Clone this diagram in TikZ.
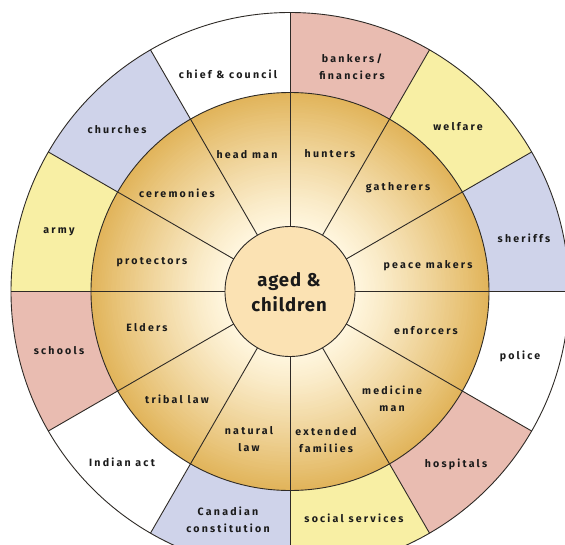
\documentclass[tikz,border=0pt]{standalone}
\usepackage{fontspec}
\setmainfont{Fira Sans}
\newfontfamily\labfont[LetterSpace=21]{Fira Sans}
\newfontfamily\midfont[LetterSpace=5]{Fira Sans}
\definecolor{pinkc}{HTML}{E9BCB1}
\definecolor{yelc}{HTML}{F8EFA4}
\definecolor{lavc}{HTML}{CFD3EA}
\definecolor{goldc}{HTML}{E1B45A}
\definecolor{creamc}{HTML}{FFF6DE}
\definecolor{centc}{HTML}{FBE2B3}
\definecolor{linec}{HTML}{2E2A26}
\definecolor{txtc}{HTML}{1A1A1A}
\tikzset{
  lab/.style={font=\labfont\bfseries\fontsize{10.6}{17}\selectfont, text=txtc, align=center, inner sep=0pt},
  bigl/.style={font=\midfont\bfseries\fontsize{18.5}{25}\selectfont, text=txtc, align=center, inner sep=0pt},
  rim/.style={draw=linec, line width=0.9pt},
}
\begin{document}
\begin{tikzpicture}[x=1pt,y=1pt]
\useasboundingbox (-290,-252.5) rectangle (275,291.5);
\clip (-290,-252.5) rectangle (275,291.5);
\fill[white] (-290,-252.5) rectangle (275,291.5);
\def\RR{279}\def\rr{199}\def\cc{65}
% outer ring sectors (start angle, colour)
\foreach \a/\col in {90/white,60/pinkc,30/yelc,0/lavc,-30/white,-60/pinkc,-90/yelc,-120/lavc,-150/white,180/pinkc,150/yelc,120/lavc}{
  \fill[\col] (0,0) -- (\a:\RR) arc[start angle=\a, end angle=\a+30, radius=\RR] -- cycle;
}
% inner ring gradient
\foreach \i in {0,...,80}{
  \pgfmathsetmacro\rad{\rr-\i*(\rr-\cc)/80}
  \pgfmathtruncatemacro\pp{100*((\rad-\cc)/(\rr-\cc))^1.15}
  \fill[goldc!\pp!creamc] (0,0) circle (\rad);
}
% radial lines
\foreach \a in {0,30,...,330}{
  \draw[rim] (\a:\cc) -- (\a:\RR);
}
\draw[rim] (0,0) circle (\RR);
\draw[rim] (0,0) circle (\rr);
\draw[rim, fill=centc] (0,0) circle (\cc);
% centre
\node[bigl] (agedchildren) at (-1,-0.5) {aged \&\\children};
% inner ring labels
\node[lab] (headman) at (-43,136.5) {head man};
\node[lab] (hunters) at (40,137.5) {hunters};
\node[lab] (gatherers) at (108,103.5) {gatherers};
\node[lab] (peacemakers) at (138,25.5) {peace makers};
\node[lab] (enforcers) at (136,-39.5) {enforcers};
\node[lab] (medicineman) at (102,-107) {medicine\\man};
\node[lab] (extfam) at (36,-149) {extended\\families};
\node[lab] (natlaw) at (-41,-148) {natural\\law};
\node[lab] (triblaw) at (-113,-107.5) {tribal law};
\node[lab] (elders) at (-143,-36.5) {Elders};
\node[lab] (protectors) at (-138,29.5) {protectors};
\node[lab] (ceremonies) at (-113,98.5) {ceremonies};
% outer ring labels
\node[lab] (chief) at (-62,217.5) {chief \& council};
\node[lab] (bankers) at (62,225) {bankers/\\financiers};
\node[lab] (welfare) at (168,164.5) {welfare};
\node[lab] (sheriffs) at (234,53.5) {sheriffs};
\node[lab] (police) at (230,-64.5) {police};
\node[lab] (hospitals) at (166,-172.5) {hospitals};
\node[lab] (socserv) at (64,-226.5) {social services};
\node[lab] (canconst) at (-62,-228.5) {Canadian\\constitution};
\node[lab] (indact) at (-168,-170.5) {Indian act};
\node[lab] (schools) at (-231,-59.5) {schools};
\node[lab] (army) at (-231,59.5) {army};
\node[lab] (churches) at (-173,161.5) {churches};
\end{tikzpicture}
\end{document}
